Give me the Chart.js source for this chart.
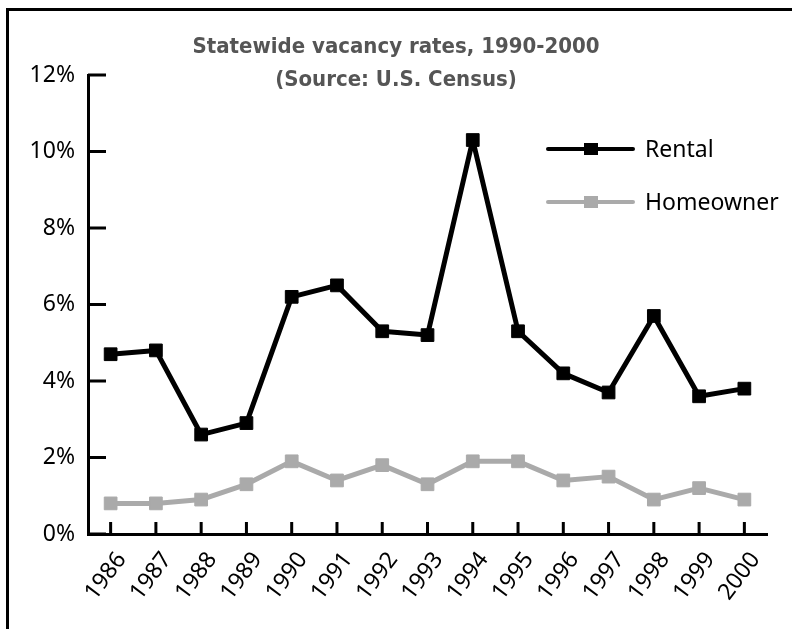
<!DOCTYPE html>
<html>
<head>
<meta charset="utf-8">
<script src="https://cdn.jsdelivr.net/npm/chart.js@4"></script>
<style>
  body { margin: 0; background: #fff; }
  #wrap { position: relative; width: 792px; height: 629px; overflow: hidden; }
  #frame { position: absolute; left: 6px; top: 8px; width: 800px; height: 700px;
           border-left: 3px solid #000; border-top: 3px solid #000; }
  canvas { position: absolute; left: 0; top: 0; }
</style>
</head>
<body>
<div id="wrap">
  <div id="frame"></div>
  <canvas id="myChart" width="792" height="629"></canvas>
</div>
<script>
const years = ["1986", "1987", "1988", "1989", "1990", "1991", "1992", "1993",
  "1994", "1995", "1996", "1997", "1998", "1999", "2000"];
const rental = [4.7, 4.8, 2.6, 2.9, 6.2, 6.5, 5.3, 5.2, 10.3, 5.3, 4.2, 3.7, 5.7, 3.6, 3.8];
const homeowner = [0.8, 0.8, 0.9, 1.3, 1.9, 1.4, 1.8, 1.3, 1.9, 1.9, 1.4, 1.5, 0.9, 1.2, 0.9];
const yTicks = [0, 2, 4, 6, 8, 10, 12];
const titleLines = ["Statewide vacancy rates, 1990-2000", "(Source: U.S. Census)"];

const labelFont = { family: "'Noto Sans', sans-serif", size: 23 };

// title, inner tick marks and legend are drawn by hand
const decorations = {
  id: "decorations",
  beforeDatasetsDraw(chart) {
    const c = chart.ctx;
    const x = chart.scales.x;
    const y = chart.scales.y;
    const area = chart.chartArea;
    c.save();
    c.strokeStyle = "#000";
    c.lineWidth = 3;
    c.beginPath();
    yTicks.forEach((v) => {
      const py = y.getPixelForValue(v);
      c.moveTo(area.left, py);
      c.lineTo(area.left + 18, py);
    });
    years.forEach((yr, i) => {
      const px = x.getPixelForValue(i);
      c.moveTo(px, area.bottom);
      c.lineTo(px, area.bottom - 12);
    });
    c.stroke();
    c.restore();
  },
  afterDraw(chart) {
    const c = chart.ctx;
    c.save();
    c.fillStyle = "#555";
    c.textAlign = "center";
    c.textBaseline = "middle";
    c.font = "bold 22px 'Liberation Sans Narrow', 'DejaVu Sans Condensed', sans-serif";
    c.fillText(titleLines[0], chart.width / 2, 47);
    c.fillText(titleLines[1], chart.width / 2, 80);

    chart.data.datasets.forEach((ds, i) => {
      const ly = 149 + i * 53;
      c.strokeStyle = ds.borderColor;
      c.lineWidth = 4;
      c.lineCap = "round";
      c.beginPath();
      c.moveTo(548, ly);
      c.lineTo(633, ly);
      c.stroke();
      c.fillStyle = ds.borderColor;
      c.fillRect(584, ly - 6, 14, 12);
      c.fillStyle = "#000";
      c.textAlign = "left";
      c.font = "23px 'Noto Sans', sans-serif";
      c.fillText(ds.label, 645, ly + 1);
    });
    c.restore();
  },
};

const ctx = document.getElementById("myChart");

new Chart(ctx, {
  type: "line",
  data: {
    labels: years,
    datasets: [
      {
        label: "Rental",
        data: rental,
        borderColor: "#000",
        backgroundColor: "#000",
        borderWidth: 5,
        borderJoinStyle: "round",
        pointStyle: "rect",
        pointRadius: 9,
        pointBorderWidth: 1,
      },
      {
        label: "Homeowner",
        data: homeowner,
        borderColor: "#aaaaaa",
        backgroundColor: "#aaaaaa",
        borderWidth: 5,
        borderJoinStyle: "round",
        pointStyle: "rect",
        pointRadius: 9,
        pointBorderWidth: 1,
      },
    ],
  },
  options: {
    responsive: false,
    animation: false,
    layout: { padding: { top: 75, left: 10, right: 25, bottom: 0 } },
    plugins: {
      legend: { display: false },
      title: { display: false },
      tooltip: { enabled: false },
    },
    scales: {
      x: {
        type: "category",
        offset: true,
        grid: { display: false, drawTicks: false },
        border: { color: "#000", width: 3 },
        ticks: {
          color: "#000",
          font: labelFont,
          maxRotation: 53,
          minRotation: 53,
          padding: 13,
          labelOffset: 11,
        },
        afterFit: (scale) => {
          scale.height = 95;
        },
      },
      y: {
        min: 0,
        max: 12,
        grid: { display: false, drawTicks: false },
        border: { color: "#000", width: 3 },
        afterBuildTicks: (scale) => {
          scale.ticks = yTicks.map((v) => ({ value: v }));
        },
        ticks: {
          color: "#000",
          font: labelFont,
          padding: 13,
          callback: (v) => v + "%",
        },
        afterFit: (scale) => {
          scale.width = 78;
        },
      },
    },
  },
  plugins: [decorations],
});
</script>
</body>
</html>
